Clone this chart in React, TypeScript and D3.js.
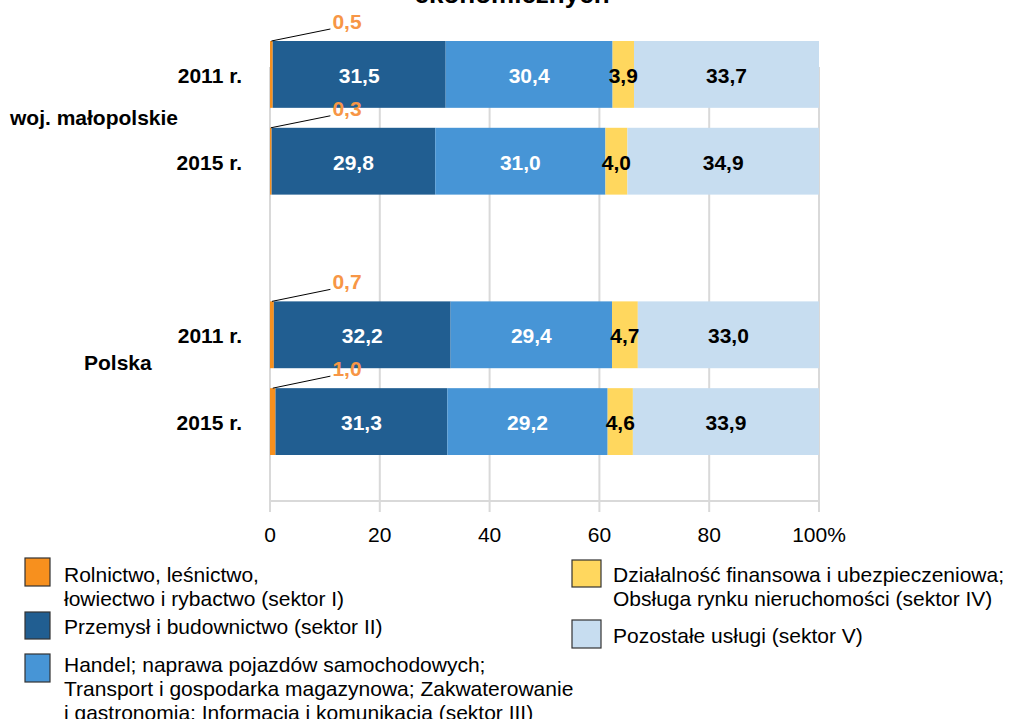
import React from "react";
import * as d3 from "d3";

const rows = ["m2011", "m2015", "gap", "p2011", "p2015"];
const rowLabels = ["2011 r.", "2015 r.", "", "2011 r.", "2015 r."];
const sectorI = [0.5, 0.3, 0, 0.7, 1.0];
const sectorII = [31.5, 29.8, 0, 32.2, 31.3];
const sectorIII = [30.4, 31.0, 0, 29.4, 29.2];
const sectorIV = [3.9, 4.0, 0, 4.7, 4.6];
const sectorV = [33.7, 34.9, 0, 33.0, 33.9];
const ticks = [0, 20, 40, 60, 80, 100];
const groups = ["woj. małopolskie", "Polska"];

const colors = ["#F7901E", "#215E91", "#4795D6", "#FFD75E", "#C7DDF0"];
const labelColors = ["#F79646", "#FFFFFF", "#FFFFFF", "#000000", "#000000"];
const series = [sectorI, sectorII, sectorIII, sectorIV, sectorV];

const legendLeft = [
  { c: 0, lines: ["Rolnictwo, leśnictwo,", "łowiectwo i rybactwo (sektor I)"] },
  { c: 1, lines: ["Przemysł i budownictwo (sektor II)"] },
  { c: 2, lines: ["Handel; naprawa pojazdów samochodowych;", "Transport i gospodarka magazynowa; Zakwaterowanie", "i gastronomia; Informacja i komunikacja (sektor III)"] },
];
const legendRight = [
  { c: 3, lines: ["Działalność finansowa i ubezpieczeniowa;", "Obsługa rynku nieruchomości (sektor IV)"] },
  { c: 4, lines: ["Pozostałe usługi (sektor V)"] },
];

const fmt = (v: number) => v.toFixed(1).replace(".", ",");

export default function App() {
  const x = d3.scaleLinear().domain([0, 100]).range([270, 819]);
  const y = d3.scaleBand().domain(rows).range([41, 455]).paddingInner(0.23).paddingOuter(0);
  const bw = y.bandwidth();
  const font = "Arial, 'Liberation Sans', sans-serif";
  const fs = 21;

  const bars: any[] = [];
  const labels: any[] = [];
  rows.forEach((r, i) => {
    if (r === "gap") return;
    const y0 = y(r)!;
    let acc = 0;
    series.forEach((s, k) => {
      const v = s[i];
      const x0 = x(acc);
      const x1 = x(acc + v);
      bars.push(<rect key={r + k} x={x0} y={y0} width={x1 - x0} height={bw} fill={colors[k]} />);
      if (k === 0) {
        const lx = x(acc + v / 2);
        const tx = x(11);
        const ty = y0 - 12;
        labels.push(<line key={r + "l"} x1={lx} y1={y0} x2={tx} y2={ty} stroke="#000" strokeWidth={1} />);
        labels.push(
          <text key={r + "t"} x={tx + 2} y={ty} fontSize={fs} fontWeight="bold" fill={labelColors[0]} fontFamily={font}>
            {fmt(v)}
          </text>
        );
      } else {
        labels.push(
          <text key={r + "t" + k} x={x(acc + v / 2)} y={y0 + bw / 2 + 8.5} textAnchor="middle" fontSize={fs} fontWeight="bold" fill={labelColors[k]} fontFamily={font}>
            {fmt(v)}
          </text>
        );
      }
      acc += v;
    });
  });

  const legendItem = (it: any, lx: number, ly: number, bwid: number, bh: number, tx: number, base: number, key: string) => (
    <g key={key}>
      <rect x={lx} y={ly} width={bwid} height={bh} fill={colors[it.c]} stroke="#333" strokeWidth={1.2} />
      {it.lines.map((t: string, j: number) => (
        <text key={j} x={tx} y={base + j * 24} fontSize={fs} fill="#000" fontFamily={font}>
          {t}
        </text>
      ))}
    </g>
  );

  return (
    <svg width={1011} height={719} style={{ position: "absolute", left: 0, top: 0, background: "#fff" }}>
      <text x={512} y={3} textAnchor="middle" fontSize={26} fontWeight="bold" fontFamily={font}>
        ekonomicznych
      </text>
      {ticks.map((t) => (
        <line key={"g" + t} x1={x(t)} x2={x(t)} y1={67} y2={512} stroke="#D9D9D9" strokeWidth={2} />
      ))}
      <line x1={x(0)} x2={x(100)} y1={501} y2={501} stroke="#D9D9D9" strokeWidth={2} />
      {ticks.map((t) => (
        <text key={"t" + t} x={x(t)} y={542} textAnchor="middle" fontSize={fs} fontFamily={font}>
          {t === 100 ? "100%" : t}
        </text>
      ))}
      {bars}
      {labels}
      {rows.map((r, i) =>
        r === "gap" ? null : (
          <text key={"rl" + r} x={242} y={y(r)! + bw / 2 + 8.5} textAnchor="end" fontSize={fs} fontWeight="bold" fontFamily={font}>
            {rowLabels[i]}
          </text>
        )
      )}
      <text x={10} y={125} fontSize={fs} fontWeight="bold" fontFamily={font}>{groups[0]}</text>
      <text x={84} y={370} fontSize={fs} fontWeight="bold" fontFamily={font}>{groups[1]}</text>
      {legendItem(legendLeft[0], 25, 558, 25, 28, 64, 582, "l0")}
      {legendItem(legendLeft[1], 25, 612, 25, 27, 64, 634, "l1")}
      {legendItem(legendLeft[2], 25, 654, 25, 28, 64, 672, "l2")}
      {legendItem(legendRight[0], 572, 560, 29, 27, 613, 582, "r0")}
      {legendItem(legendRight[1], 572, 620, 29, 28, 613, 643, "r1")}
    </svg>
  );
}
